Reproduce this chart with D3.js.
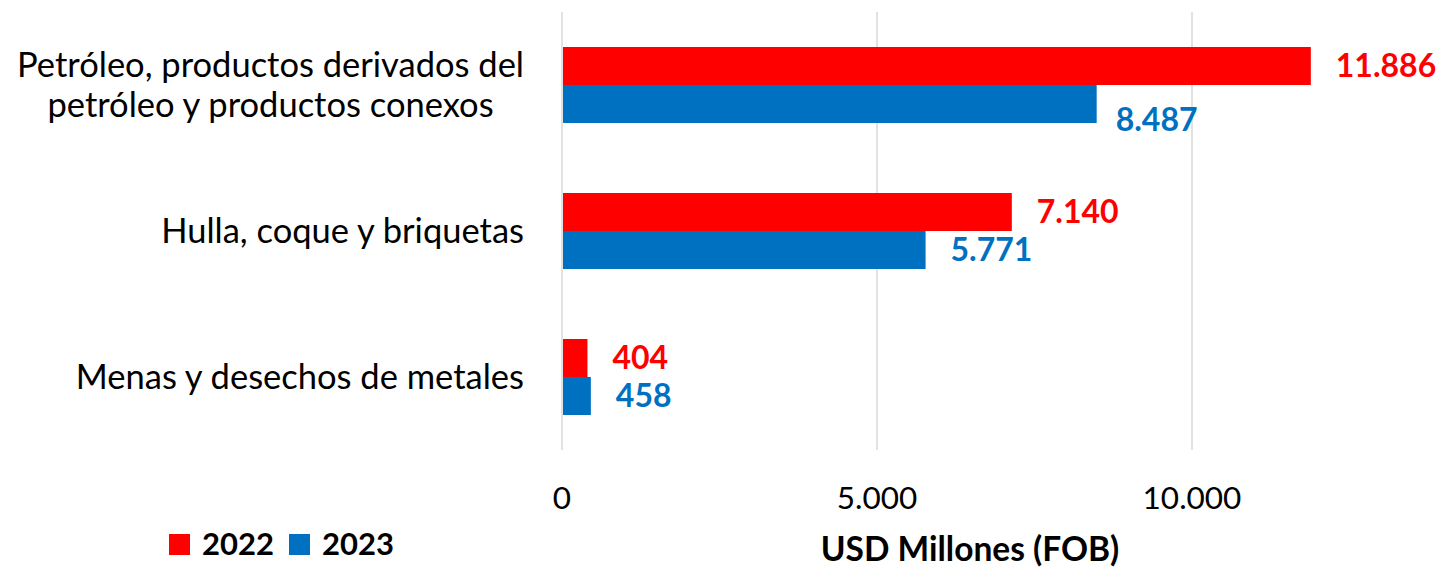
<!DOCTYPE html>
<html>
<head>
<meta charset="utf-8">
<script src="https://cdn.jsdelivr.net/npm/d3@7"></script>
<style>
  body { margin: 0; background: #fff; }
  text { font-family: Lato, "Open Sans", sans-serif; }
</style>
</head>
<body>
<div id="chart"></div>
<script>
// data
const categories = [
  ["Petróleo, productos derivados del", "petróleo y productos conexos"],
  ["Hulla, coque y briquetas"],
  ["Menas y desechos de metales"]
];
const years = ["2022", "2023"];
const values2022 = [11886, 7140, 404];
const values2023 = [8487, 5771, 458];
const xTicks = [0, 5000, 10000];

const colors = { "2022": "#FF0000", "2023": "#0070C0" };

const width = 1445;
const height = 569;

const svg = d3.select("#chart").append("svg")
  .attr("width", width)
  .attr("height", height);

const x = d3.scaleLinear().domain([0, 14000]).range([562, 1444]);
const y = d3.scaleBand().domain(d3.range(categories.length)).range([12, 450]).padding(0);
const barH = 38;
const ySub = d3.scaleBand().domain(years)
  .range([y.bandwidth() / 2 - barH, y.bandwidth() / 2 + barH]);

const fmt = d3.formatLocale({ decimal: ",", thousands: ".", grouping: [3], currency: ["", ""] }).format(",d");

// gridlines
svg.append("g")
  .selectAll("line")
  .data(xTicks)
  .join("line")
  .attr("x1", d => x(d)).attr("x2", d => x(d))
  .attr("y1", 12).attr("y2", 450)
  .attr("stroke", "#D9D9D9")
  .attr("stroke-width", 1.5);

// tick labels
svg.append("g")
  .selectAll("text")
  .data(xTicks)
  .join("text")
  .attr("x", d => x(d))
  .attr("y", 498)
  .attr("dy", "0.35em")
  .attr("text-anchor", "middle")
  .attr("font-size", 31.5)
  .attr("fill", "#000")
  .text(d => fmt(d));

const rows = [];
years.forEach(yr => {
  const vals = yr === "2022" ? values2022 : values2023;
  vals.forEach((v, i) => rows.push({ year: yr, cat: i, value: v }));
});

const groups = svg.append("g").attr("class", "bars");
groups.selectAll("rect")
  .data(rows)
  .join("rect")
  .attr("x", x(0) + 1)
  .attr("y", d => y(d.cat) + ySub(d.year))
  .attr("width", d => x(d.value) - x(0) - 1)
  .attr("height", ySub.bandwidth())
  .attr("fill", d => colors[d.year]);

// the 8.487 label was nudged by hand in the original
const nudge = { "2023-0": [-6, 16] };

svg.append("g")
  .selectAll("text")
  .data(rows)
  .join("text")
  .attr("x", d => x(d.value) + 25 + (nudge[d.year + "-" + d.cat] || [0, 0])[0])
  .attr("y", d => y(d.cat) + ySub(d.year) + ySub.bandwidth() / 2 + (nudge[d.year + "-" + d.cat] || [0, 0])[1])
  .attr("dy", "0.35em")
  .attr("font-size", 32)
  .attr("font-weight", "bold")
  .attr("fill", d => colors[d.year])
  .text(d => fmt(d.value));

// category labels
const lineH = 40;
const catG = svg.append("g");
categories.forEach((lines, i) => {
  const cy = y(i) + y.bandwidth() / 2;
  const t = catG.append("text")
    .attr("font-size", 34.5)
    .attr("fill", "#000");
  lines.forEach((ln, j) => {
    t.append("tspan")
      .attr("x", 0)
      .attr("y", cy + (j - (lines.length - 1) / 2) * lineH)
      .attr("dy", "0.35em")
      .attr("text-anchor", "middle")
      .text(ln);
  });
  // right-align the block at x=524, lines centred within it
  const w = t.node().getBBox().width;
  t.attr("transform", `translate(${524 - w / 2},0)`);
});

// axis title
svg.append("text")
  .attr("x", 970)
  .attr("y", 549)
  .attr("dy", "0.35em")
  .attr("text-anchor", "middle")
  .attr("font-size", 33.5)
  .attr("font-weight", "bold")
  .text("USD Millones (FOB)");

// legend
const legend = svg.append("g");
const legendX = [169, 289];
years.forEach((yr, i) => {
  legend.append("rect")
    .attr("x", legendX[i]).attr("y", 534)
    .attr("width", 21).attr("height", 21)
    .attr("fill", colors[yr]);
  legend.append("text")
    .attr("x", legendX[i] + 33)
    .attr("y", 544)
    .attr("dy", "0.35em")
    .attr("font-size", 31)
    .attr("font-weight", "bold")
    .text(yr);
});
</script>
</body>
</html>
